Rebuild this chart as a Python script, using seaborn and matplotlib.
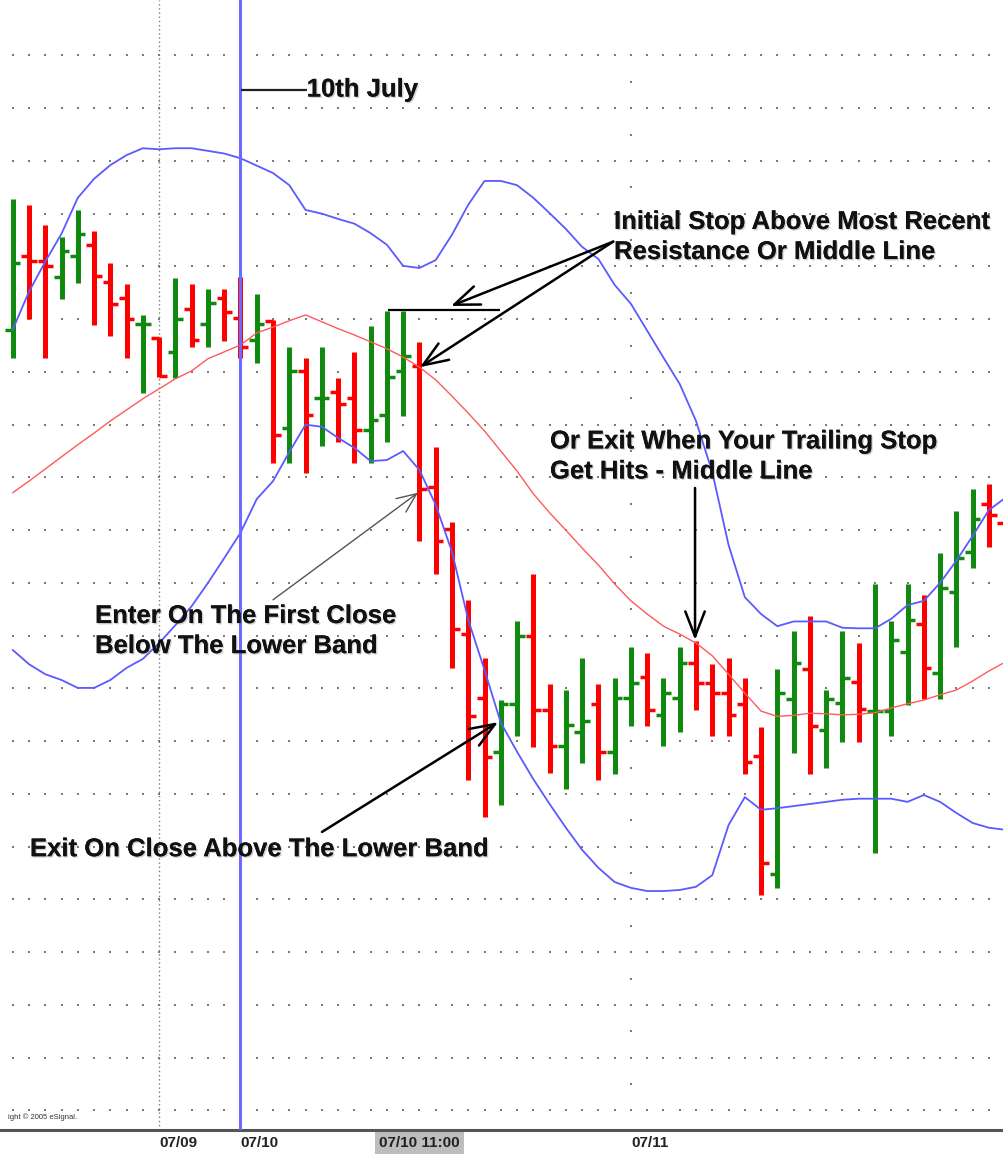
import matplotlib
matplotlib.use("Agg")
import matplotlib.pyplot as plt
import matplotlib.patheffects as pe
import numpy as np
import pandas as pd
import seaborn as sns

# hourly bars, one per bar slot
bar_open = [11048.0, 11061.9, 11061.0, 11058.0, 11062.0, 11064.1, 11057.0, 11054.0, 11049.1, 11046.4,
            11043.8, 11052.0, 11049.1, 11054.1, 11050.2, 11046.0, 11049.7, 11029.3, 11040.2, 11035.0,
            11036.1, 11035.0, 11029.0, 11031.8, 11040.2, 11041.1, 11018.1, 11010.2, 10990.3, 10978.1,
            10967.9, 10977.0, 10990.0, 10976.0, 10969.0, 10971.8, 10977.1, 10968.0, 10978.1, 10982.1,
            10975.0, 10978.1, 10984.9, 10981.1, 10979.2, 10977.1, 10967.1, 10944.8, 10978.0, 10983.6,
            10972.1, 10977.2, 10981.3, 10975.8, 10975.8, 10987.0, 10992.2, 10983.0, 10998.2, 11005.9,
            11015.0, 11011.3]
bar_high = [11072.7, 11071.7, 11067.9, 11065.6, 11070.6, 11066.8, 11060.6, 11056.7, 11050.8, 11046.7,
            11057.8, 11056.7, 11055.7, 11055.7, 11058.0, 11054.8, 11049.9, 11044.8, 11042.6, 11044.7,
            11038.8, 11043.7, 11048.7, 11051.6, 11051.6, 11045.7, 11025.8, 11011.6, 10996.7, 10985.7,
            10977.8, 10992.7, 11001.7, 10980.9, 10979.8, 10985.7, 10980.9, 10981.9, 10987.8, 10986.7,
            10981.9, 10987.8, 10988.9, 10984.6, 10985.7, 10981.9, 10972.6, 10983.6, 10990.9, 10993.7,
            10979.8, 10990.8, 10988.7, 10999.8, 10992.7, 10999.8, 10997.7, 11005.7, 11013.7, 11017.8,
            11018.8, 11015.4]
bar_low = [11042.7, 11050.0, 11042.7, 11053.8, 11056.8, 11048.9, 11046.8, 11042.7, 11036.0, 11039.1,
           11038.8, 11044.8, 11044.8, 11045.9, 11042.7, 11041.7, 11022.7, 11022.7, 11020.9, 11026.0,
           11026.8, 11022.8, 11022.8, 11026.8, 11031.7, 11008.0, 11001.7, 10983.8, 10962.7, 10955.7,
           10957.9, 10971.0, 10968.9, 10963.9, 10960.9, 10965.9, 10962.7, 10963.8, 10972.8, 10972.8,
           10969.0, 10971.8, 10975.9, 10971.0, 10971.0, 10963.8, 10940.9, 10942.1, 10967.7, 10963.8,
           10964.9, 10969.9, 10969.9, 10948.9, 10970.9, 10976.9, 10978.0, 10978.0, 10987.8, 11002.8,
           11006.9, 10995.8]
bar_close = [11060.7, 11061.0, 11060.0, 11062.9, 11066.1, 11058.1, 11052.9, 11050.0, 11049.1, 11039.2,
             11050.0, 11046.0, 11053.0, 11051.3, 11044.8, 11049.1, 11028.1, 11040.2, 11031.8, 11035.0,
             11033.9, 11029.0, 11030.9, 11039.1, 11043.0, 11017.8, 11008.0, 10991.3, 10974.8, 10967.0,
             10977.0, 10990.0, 10976.0, 10969.0, 10973.1, 10973.8, 10968.0, 10978.1, 10981.0, 10975.9,
             10979.2, 10984.9, 10981.1, 10979.2, 10975.0, 10966.0, 10946.9, 10979.2, 10984.9, 10972.9,
             10978.0, 10981.9, 10976.1, 10975.8, 10989.1, 10992.9, 10983.8, 10999.0, 11004.7, 11012.1,
             11012.9, 11000.0]

# Bollinger bands as plotted
upper_band = [11048.0, 11055.2, 11060.9, 11066.2, 11073.0, 11076.6, 11079.2, 11081.1, 11082.4, 11082.2,
              11082.4, 11082.4, 11081.9, 11081.4, 11080.5, 11079.1, 11077.7, 11075.4, 11070.7, 11070.0,
              11069.0, 11068.1, 11066.3, 11064.1, 11060.1, 11059.7, 11061.2, 11066.0, 11071.7, 11076.2,
              11076.2, 11075.4, 11073.0, 11070.1, 11067.1, 11063.7, 11061.4, 11056.5, 11052.9, 11047.8,
              11042.7, 11037.7, 11030.7, 11021.0, 11007.2, 10997.3, 10994.1, 10991.8, 10992.7, 10992.7,
              10992.7, 10991.5, 10991.4, 10991.4, 10993.2, 10995.8, 10996.6, 11000.0, 11004.2, 11008.9,
              11013.8, 11016.1]
middle_band = [11017.1, 11019.3, 11021.6, 11023.9, 11026.2, 11028.4, 11030.7, 11032.8, 11034.9, 11036.8,
               11038.7, 11040.2, 11042.5, 11043.8, 11045.1, 11047.4, 11048.5, 11049.7, 11050.8, 11049.5,
               11048.2, 11047.0, 11045.7, 11044.4, 11042.8, 11040.9, 11038.5, 11035.4, 11032.2, 11028.8,
               11025.0, 11021.2, 11016.9, 11013.3, 11010.0, 11006.6, 11003.4, 10999.8, 10996.6, 10994.1,
               10991.8, 10990.3, 10988.6, 10986.2, 10982.7, 10979.1, 10975.7, 10974.7, 10974.9, 10975.3,
               10975.2, 10975.0, 10975.1, 10975.4, 10976.3, 10977.1, 10977.8, 10978.8, 10979.7, 10981.4,
               10983.3, 10985.0]
lower_band = [10987.3, 10984.6, 10982.7, 10981.6, 10980.1, 10980.1, 10981.6, 10983.9, 10985.6, 10988.6,
              10992.0, 10995.6, 11000.0, 11004.7, 11009.5, 11015.9, 11019.3, 11024.8, 11030.0, 11029.6,
              11027.5, 11025.6, 11023.1, 11023.3, 11025.0, 11021.4, 11014.8, 11005.9, 10993.0, 10983.5,
              10973.5, 10968.0, 10962.8, 10958.1, 10953.6, 10949.4, 10946.0, 10943.3, 10942.2, 10941.6,
              10941.6, 10941.8, 10942.4, 10944.6, 10954.1, 10959.4, 10957.0, 10957.3, 10957.7, 10958.1,
              10958.5, 10958.9, 10959.1, 10959.1, 10959.1, 10958.5, 10959.8, 10958.5, 10956.4, 10954.5,
              10953.6, 10953.2]

price_levels = list(range(10900, 11101, 10))
day_breaks = [9, 14, 38]
tick_pos = [9, 14, 25, 38]
tick_labels = ["07/09", "07/10", "07/10 11:00", "07/11"]

GREEN = "#0f8a0f"
RED = "#ff0000"
BAND_BLUE = "#5a5aff"
MID_RED = "#ff5a5a"
DOT = "#7a7a7a"

df = pd.DataFrame({"open": bar_open, "high": bar_high, "low": bar_low, "close": bar_close,
                   "upper": upper_band, "middle": middle_band, "lower": lower_band})
df["bar"] = np.arange(len(df))
df["color"] = np.where(df["close"] >= df["open"], GREEN, RED)

sns.set_style("white")
plt.rcParams["font.family"] = ["Liberation Sans", "DejaVu Sans"]

fig = plt.figure(figsize=(10.04, 11.74), dpi=100)
ax = fig.add_axes([0, 44 / 1174, 1, 1130 / 1174])

# dotted grid: one dot per bar slot on every price level
gx, gy = np.meshgrid(df["bar"], price_levels)
ax.scatter(gx.ravel(), gy.ravel(), s=2.6, marker="s", color=DOT, linewidths=0, zorder=1)
ax.axvline(day_breaks[0], color=DOT, lw=1.0, ls=(0, (1, 2)), zorder=1)
mid_levels = [p + 5 for p in price_levels[:-1]]
ax.scatter([day_breaks[2]] * len(mid_levels), mid_levels, s=2.6, marker="s",
           color=DOT, linewidths=0, zorder=1)

# OHLC bars
ax.vlines(df["bar"], df["low"], df["high"], colors=df["color"], lw=3.6, zorder=3)
ax.hlines(df["open"], df["bar"] - 0.47, df["bar"], colors=df["color"], lw=2.5, zorder=3)
ax.hlines(df["close"], df["bar"], df["bar"] + 0.47, colors=df["color"], lw=2.5, zorder=3)

# bands
sns.lineplot(data=df, x="bar", y="upper", color=BAND_BLUE, lw=1.3, ax=ax, zorder=4)
sns.lineplot(data=df, x="bar", y="lower", color=BAND_BLUE, lw=1.3, ax=ax, zorder=4)
sns.lineplot(data=df, x="bar", y="middle", color=MID_RED, lw=1.0, ax=ax, zorder=4)

# 10th July marker
ax.axvline(day_breaks[1], color="#6b6bff", lw=2.2, zorder=5)

ax.set_xlim(-0.781, 60.93)
ax.set_ylim(10896.3, 11110.5)

for s in ["top", "left", "right"]:
    ax.spines[s].set_visible(False)
ax.spines["bottom"].set_color("#555555")
ax.spines["bottom"].set_linewidth(2.2)
ax.set_yticks([])
ax.set_xlabel("")
ax.set_ylabel("")
ax.set_xticks(tick_pos, tick_labels)
ax.tick_params(axis="x", direction="in", length=4, width=1, color="#555555", pad=4)
for i, lbl in enumerate(ax.get_xticklabels()):
    lbl.set_fontweight("bold")
    lbl.set_fontsize(11)
    lbl.set_color("#222222")
    lbl.set_ha("left")
    if tick_labels[i] == "07/10 11:00":
        lbl.set_ha("center")
        lbl.set_bbox(dict(facecolor="#bdbdbd", edgecolor="none", pad=3))

shadow = [pe.withSimplePatchShadow(offset=(1, -1), shadow_rgbFace="#777777", alpha=0.35), pe.Normal()]
txt = dict(fontsize=18.5, fontweight="bold", color="#111111", va="baseline", ha="left",
           path_effects=shadow, zorder=6)

ax.text(18.07, 11092.2, "10th July", **txt)
ax.hlines(11093.5, 14.03, 18.07, color="#222222", lw=1.6, zorder=6)

ax.text(36.96, 11067.1, "Initial Stop Above Most Recent", **txt)
ax.text(36.96, 11061.4, "Resistance Or Middle Line", **txt)
ax.hlines(11051.7, 23.07, 29.95, color="black", lw=1.6, zorder=6)
head = dict(arrowstyle="->,head_length=0.9,head_width=0.35", color="black", lw=1.8,
            shrinkA=0, shrinkB=0, mutation_scale=20)
ax.annotate("", xy=(26.94, 11052.5), xytext=(36.91, 11064.7), arrowprops=head, zorder=6)
ax.annotate("", xy=(25.03, 11040.9), xytext=(36.91, 11064.7), arrowprops=head, zorder=6)

ax.text(33.02, 11025.5, "Or Exit When Your Trailing Stop", **txt)
ax.text(33.02, 11019.8, "Get Hits - Middle Line", **txt)
ax.annotate("", xy=(41.94, 10989.2), xytext=(41.94, 11018.0), arrowprops=head, zorder=6)

ax.text(5.06, 10992.4, "Enter On The First Close", **txt)
ax.text(5.06, 10986.7, "Below The Lower Band", **txt)
thin = dict(arrowstyle="->,head_length=0.7,head_width=0.3", color="#555555", lw=1.0,
            shrinkA=0, shrinkB=0, mutation_scale=20)
ax.annotate("", xy=(24.91, 11017.1), xytext=(16.0, 10996.8), arrowprops=thin, zorder=6)

ax.text(1.06, 10948.2, "Exit On Close Above The Lower Band", **txt)
ax.annotate("", xy=(29.83, 10973.6), xytext=(19.01, 10952.8), arrowprops=head, zorder=6)

ax.text(0.008, 0.008, "ight \u00a9 2005 eSignal.", transform=ax.transAxes, fontsize=5.5,
        color="#333333", va="bottom", ha="left")

fig.savefig("out.png", dpi=100, facecolor="white")
